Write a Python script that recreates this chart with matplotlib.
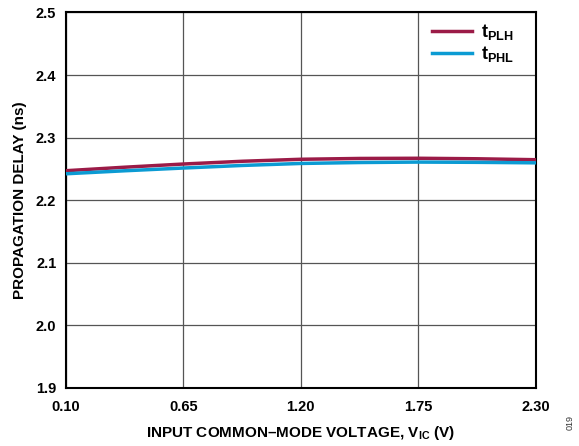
import numpy as np
import matplotlib.pyplot as plt

plt.rcParams['font.family'] = 'Liberation Sans'
plt.rcParams['mathtext.fontset'] = 'custom'
plt.rcParams['mathtext.rm'] = 'Liberation Sans:bold'
plt.rcParams['mathtext.bf'] = 'Liberation Sans:bold'
plt.rcParams['mathtext.it'] = 'Liberation Sans:bold'

# common-mode voltage (V) and delays (ns)
vic = [0.10, 0.375, 0.65, 0.925, 1.20, 1.475, 1.75, 2.025, 2.30]
t_plh = [2.2469, 2.2525, 2.2576, 2.2620, 2.2652, 2.2665, 2.2668, 2.2660, 2.2645]
t_phl = [2.2420, 2.2468, 2.2512, 2.2553, 2.2585, 2.2600, 2.2607, 2.2603, 2.2595]

x_ticks = [0.10, 0.65, 1.20, 1.75, 2.30]
x_labels = ['0.10', '0.65', '1.20', '1.75', '2.30']
y_ticks = [1.9, 2.0, 2.1, 2.2, 2.3, 2.4, 2.5]
y_labels = ['1.9', '2.0', '2.1', '2.2', '2.3', '2.4', '2.5']

fig = plt.figure(figsize=(5.79, 4.46), dpi=100)
ax = fig.add_axes([0.114, 0.131, 0.811, 0.841])

ax.plot(vic, t_plh, color='#9b1b47', lw=2.5, label=r'$\mathregular{t_{PLH}}$', zorder=3)
ax.plot(vic, t_phl, color='#0b9bd3', lw=2.5, label=r'$\mathregular{t_{PHL}}$', zorder=3)

ax.set_xlim(0.10, 2.30)
ax.set_ylim(1.9, 2.5)
ax.set_xticks(x_ticks)
ax.set_xticklabels(x_labels)
ax.set_yticks(y_ticks)
ax.set_yticklabels(y_labels)
ax.tick_params(length=0, labelsize=10.5)
ax.tick_params(axis='x', pad=9)
ax.tick_params(axis='y', pad=7)
for lab in ax.get_xticklabels() + ax.get_yticklabels():
    lab.set_fontweight('bold')

ax.grid(True, color='#555555', lw=0.9)
ax.set_axisbelow(True)
for s in ax.spines.values():
    s.set_linewidth(1.5)
    s.set_color('black')

ax.set_xlabel(r'INPUT COMMON–MODE VOLTAGE, V$_{\mathregular{IC}}$ (V)', fontsize=11,
              fontweight='bold', labelpad=7)
ax.set_ylabel('PROPAGATION DELAY (ns)', fontsize=11, fontweight='bold', labelpad=6)

leg = ax.legend(loc='upper right', bbox_to_anchor=(0.985, 1.013), frameon=False,
                prop={'weight': 'bold', 'size': 13},
                handlelength=2.2, handletextpad=0.5, labelspacing=0.1,
                borderaxespad=0.6, borderpad=0.2)

fig.text(0.985, 0.035, '019', rotation=90, fontsize=6.5, color='#333333', ha='center', va='bottom')

plt.savefig('out.png', dpi=100)
